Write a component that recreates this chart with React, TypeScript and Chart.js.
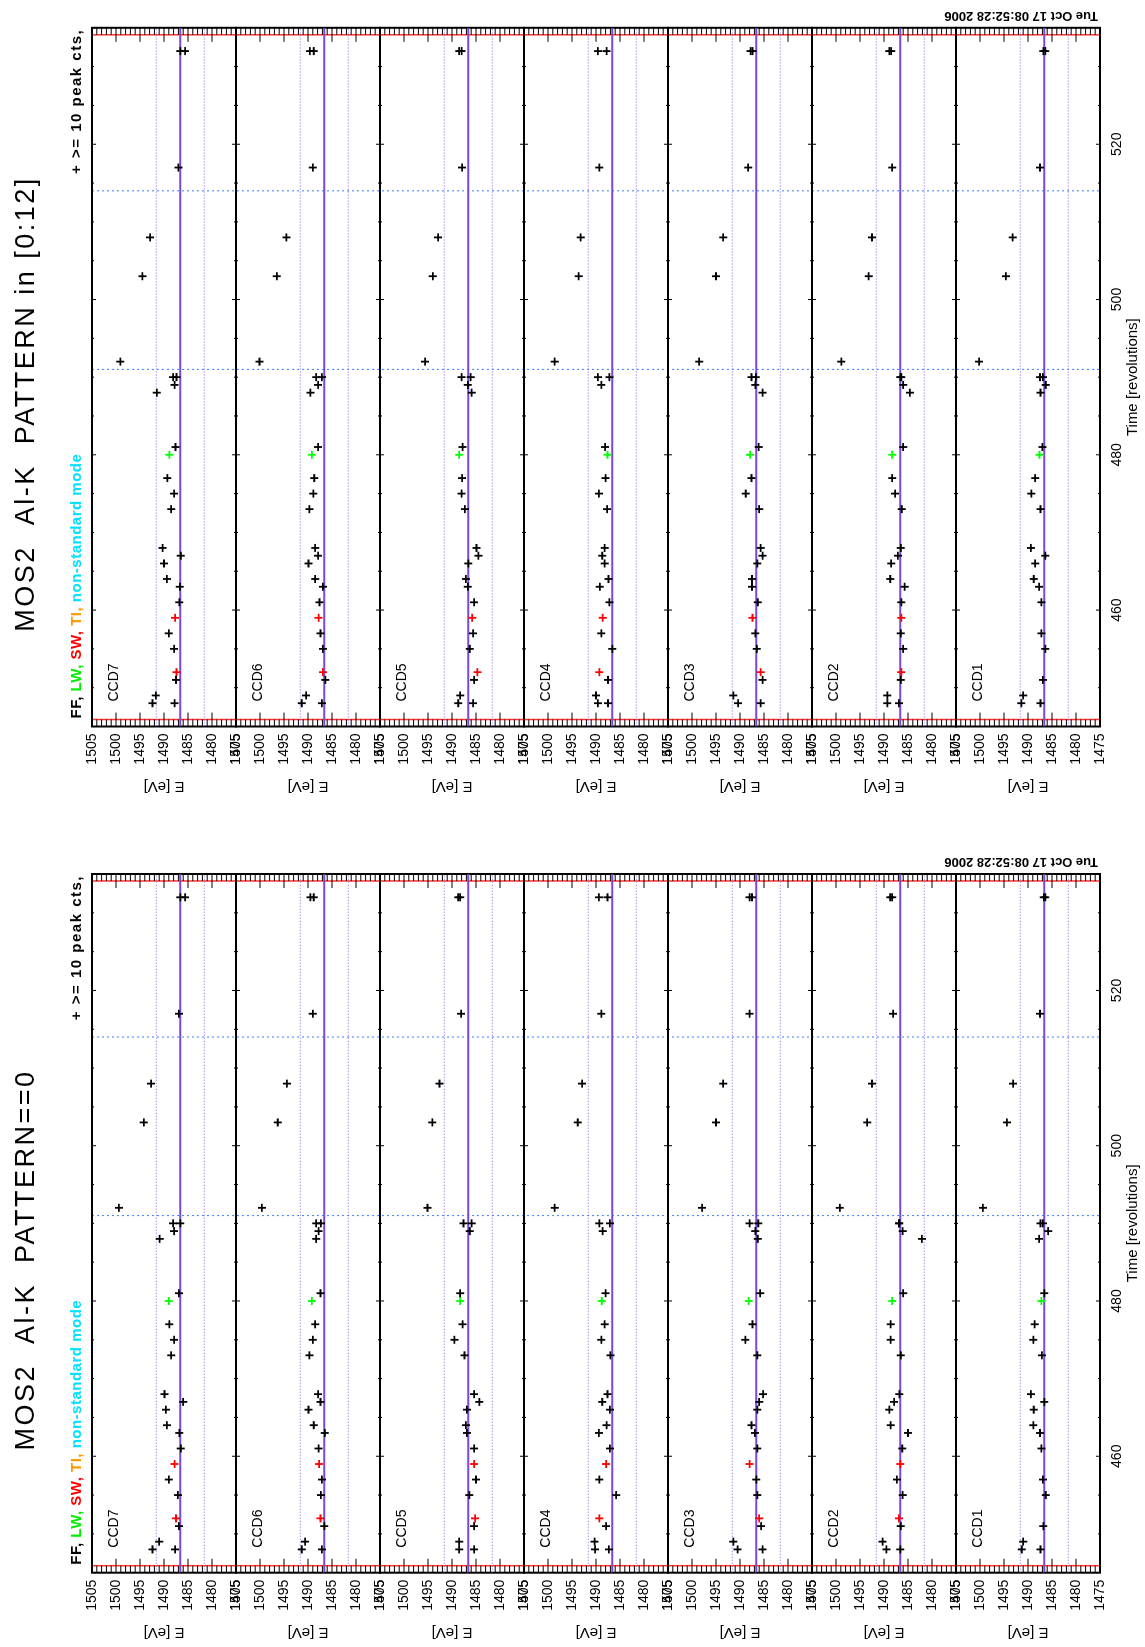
import React, { useEffect, useRef } from 'react';
import { Chart, registerables } from 'chart.js';

Chart.register(...registerables);

// ---------- data ----------
const TIMES = [448, 448, 449, 451, 452, 455, 457, 459, 461, 463, 464, 466, 467, 468, 473, 475, 477, 480, 481, 488, 489, 490, 490, 492, 503, 508, 517, 532, 532];
const MODES = ['FF', 'FF', 'FF', 'FF', 'SW', 'FF', 'FF', 'SW', 'FF', 'FF', 'FF', 'FF', 'FF', 'FF', 'FF', 'FF', 'FF', 'LW', 'FF', 'FF', 'FF', 'FF', 'FF', 'FF', 'FF', 'FF', 'FF', 'FF', 'FF'];
const CCD_NAMES = ['CCD7', 'CCD6', 'CCD5', 'CCD4', 'CCD3', 'CCD2', 'CCD1'];

// PATTERN==0
const P0_CCD7 = [1492.4, 1487.7, 1491.0, 1486.9, 1487.5, 1487.1, 1489.0, 1487.8, 1486.5, 1486.8, 1489.4, 1489.6, 1486.0, 1489.9, 1488.5, 1487.9, 1488.9, 1489.0, 1486.9, 1490.9, 1487.9, 1488.1, 1486.6, 1499.4, 1494.2, 1492.7, 1486.9, 1486.6, 1485.6];
const P0_CCD6 = [1491.3, 1487.1, 1490.6, 1486.6, 1487.4, 1487.3, 1487.1, 1487.7, 1487.8, 1486.5, 1488.8, 1489.9, 1487.4, 1487.9, 1489.7, 1489.0, 1488.5, 1489.2, 1487.4, 1488.3, 1487.8, 1488.3, 1487.3, 1499.6, 1496.3, 1494.4, 1489.0, 1489.5, 1488.8];
const P0_CCD5 = [1488.5, 1485.4, 1488.5, 1485.4, 1485.2, 1486.4, 1485.0, 1485.4, 1485.4, 1486.9, 1487.1, 1486.9, 1484.3, 1485.4, 1487.4, 1489.5, 1487.8, 1488.3, 1488.3, null, 1486.3, 1487.6, 1485.9, 1495.1, 1494.1, 1492.6, 1488.1, 1488.7, 1488.3];
const P0_CCD4 = [1490.2, 1487.3, 1490.3, 1487.9, 1489.3, 1485.8, 1489.3, 1487.9, 1487.1, 1489.4, 1487.8, 1487.1, 1488.7, 1487.6, 1487.0, 1488.9, 1488.2, 1488.8, 1488.0, null, 1488.6, 1489.3, 1487.1, 1498.6, 1493.8, 1492.9, 1488.9, 1489.4, 1487.6];
const P0_CCD3 = [1490.5, 1485.3, 1491.4, 1485.6, 1486.0, 1486.4, 1486.6, 1488.0, 1486.4, 1486.9, 1487.6, 1486.4, 1486.0, 1485.2, 1486.4, 1488.9, 1487.4, 1488.2, 1485.8, 1486.3, 1486.8, 1488.0, 1486.2, 1497.9, 1495.0, 1493.5, 1488.0, 1488.0, 1487.5];
const P0_CCD2 = [1489.5, 1486.6, 1490.3, 1486.5, 1486.9, 1486.1, 1487.3, 1486.6, 1486.2, 1485.0, 1488.6, 1488.9, 1487.9, 1486.8, 1486.5, 1488.6, 1488.6, 1488.3, 1486.0, 1482.1, 1486.1, 1486.9, 1486.8, 1499.2, 1493.5, 1492.5, 1488.1, 1488.7, 1488.3];
const P0_CCD1 = [1491.3, 1487.4, 1491.0, 1486.8, null, 1486.3, 1486.9, null, 1487.2, 1487.5, 1488.9, 1488.8, 1486.6, 1489.4, 1487.1, 1488.9, 1488.6, 1487.2, 1486.6, 1487.7, 1485.8, 1487.4, 1486.9, 1499.4, 1494.4, 1493.1, 1487.5, 1486.7, 1486.4];

// PATTERN in [0:12]
const P12_CCD7 = [1492.4, 1487.8, 1491.7, 1487.5, 1487.4, 1487.9, 1489.0, 1487.7, 1486.8, 1486.7, 1489.4, 1490.0, 1486.5, 1490.3, 1488.5, 1487.9, 1489.3, 1488.9, 1487.6, 1491.5, 1487.8, 1488.1, 1487.4, 1499.1, 1494.5, 1492.9, 1487.0, 1486.6, 1485.6];
const P12_CCD6 = [1491.3, 1487.1, 1490.4, 1486.4, 1486.9, 1486.9, 1487.4, 1487.8, 1487.6, 1486.9, 1488.5, 1489.9, 1487.9, 1488.5, 1489.7, 1488.9, 1488.7, 1489.2, 1487.9, 1489.5, 1487.9, 1488.3, 1487.1, 1500.1, 1496.5, 1494.5, 1489.0, 1489.6, 1488.8];
const P12_CCD5 = [1488.7, 1485.6, 1488.3, 1485.4, 1484.7, 1486.3, 1485.6, 1485.8, 1485.4, 1486.7, 1487.1, 1486.6, 1484.5, 1484.9, 1487.3, 1488.0, 1487.9, 1488.5, 1487.8, 1485.9, 1486.7, 1488.0, 1486.1, 1495.6, 1494.0, 1492.9, 1487.9, 1488.5, 1488.0];
const P12_CCD4 = [1489.6, 1487.5, 1490.0, 1487.5, 1489.3, 1486.6, 1488.9, 1488.6, 1487.2, 1489.2, 1487.4, 1488.2, 1488.7, 1488.2, 1487.7, 1489.4, 1488.0, 1487.6, 1488.1, null, 1488.9, 1489.6, 1487.2, 1498.6, 1493.6, 1493.2, 1489.3, 1489.6, 1487.8];
const P12_CCD3 = [1490.4, 1485.7, 1491.4, 1485.3, 1485.7, 1486.5, 1486.8, 1487.4, 1486.3, 1487.5, 1487.5, 1486.4, 1485.3, 1485.7, 1486.0, 1488.8, 1487.6, 1487.9, 1486.1, 1485.3, 1486.8, 1487.6, 1486.7, 1498.5, 1495.0, 1493.5, 1488.3, 1487.8, 1487.4];
const P12_CCD2 = [1489.3, 1486.9, 1489.3, 1486.5, 1486.4, 1486.0, 1486.5, 1486.4, 1486.4, 1485.7, 1488.7, 1488.5, 1487.1, 1486.5, 1486.3, 1487.7, 1488.3, 1488.3, 1486.0, 1484.6, 1486.0, 1486.6, 1486.4, 1498.9, 1493.2, 1492.5, 1488.3, 1488.9, 1488.5];
const P12_CCD1 = [1491.4, 1487.4, 1491.0, 1486.9, null, 1486.4, 1487.2, null, 1487.2, 1487.7, 1488.8, 1488.5, 1486.4, 1489.4, 1487.4, 1489.3, 1488.5, 1487.6, 1487.0, 1487.4, 1486.3, 1487.5, 1486.9, 1500.2, 1494.6, 1493.2, 1487.5, 1486.8, 1486.4];

const TIME_TICKS = [460, 480, 500, 520];
const E_TICKS = [1475, 1480, 1485, 1490, 1495, 1500, 1505];
const T_MIN = 445;
const T_MAX = 535;
const E_MIN = 1475;
const E_MAX = 1505;
const AL_K = 1486.6;
const AL_K_WINDOW = [1491.6, 1481.6];
const BLUE_TIMES = [491, 514];
const RED_TIMES = [445.9, 534.1];

const MODE_COLORS: [string, string][] = [
  ['FF', '#000000'],
  ['LW', '#00ff00'],
  ['SW', '#ff0000'],
];
const LEGEND_PARTS: [string, string][] = [
  ['FF, ', '#000000'],
  ['LW, ', '#00ee00'],
  ['SW, ', '#ff0000'],
  ['TI, ', '#ff9900'],
  ['non-standard mode', '#00e0ff'],
];
const DATE_TEXT = 'Tue Oct 17 08:52:28 2006';
const PEAK_TEXT = '+ >= 10 peak cts,';

const FONT = '"Liberation Sans", Arial, Helvetica, sans-serif';
Chart.defaults.font.family = FONT;

const PAGE_W = 1647;
const PAGE_H = 1145;
const AXIS_W = 74.3;
const TOP_PAD = 92;
const X_AXIS_H = 45;

function txt(ctx: CanvasRenderingContext2D, s: string, x: number, y: number, font: string, color: string, align: CanvasTextAlign = 'left', spacing = 0) {
  ctx.save();
  ctx.font = font;
  ctx.fillStyle = color;
  ctx.textAlign = align;
  ctx.textBaseline = 'alphabetic';
  (ctx as any).letterSpacing = spacing + 'px';
  ctx.fillText(s, x, y);
  ctx.restore();
}

function makeConfig(title: string, titleX: number, series: (number | null)[][], padLeft: number, padRight: number) {
  const scales: any = {
    x: {
      type: 'linear',
      position: 'bottom',
      min: T_MIN,
      max: T_MAX,
      afterBuildTicks: (s: any) => { s.ticks = TIME_TICKS.map((v) => ({ value: v })); },
      afterFit: (s: any) => { s.height = X_AXIS_H; },
      grid: { display: false, drawTicks: false },
      border: { display: false },
      ticks: { color: '#000', font: { size: 14 }, padding: 9, maxRotation: 0, autoSkip: false, callback: (v: any) => String(v) },
      title: { display: true, text: 'Time [revolutions]', color: '#000', font: { size: 15 }, padding: { top: 0, bottom: 3 } },
    },
  };
  CCD_NAMES.forEach((_, i) => {
    scales['y' + i] = {
      type: 'linear',
      position: 'left',
      stack: 'ccd',
      stackWeight: 1,
      weight: 10 - i,
      min: E_MIN,
      max: E_MAX,
      afterBuildTicks: (s: any) => { s.ticks = E_TICKS.map((v) => ({ value: v })); },
      afterFit: (s: any) => { s.width = AXIS_W; },
      grid: { display: false, drawTicks: false },
      border: { display: false },
      ticks: { color: '#000', font: { size: 14 }, padding: 7, autoSkip: false, callback: (v: any) => String(v) },
      title: { display: true, text: 'E [eV]', color: '#000', font: { size: 15 }, padding: { top: 5.5, bottom: 0 } },
    };
  });

  const datasets: any[] = [];
  series.forEach((vals, i) => {
    const yAxisID = 'y' + i;
    MODE_COLORS.forEach(([mode, color]) => {
      const pts = TIMES.map((t, k) => ({ x: t, y: vals[k], m: MODES[k] }))
        .filter((p) => p.m === mode && p.y !== null)
        .map((p) => ({ x: p.x, y: p.y }));
      datasets.push({
        type: 'scatter',
        label: CCD_NAMES[i] + ' ' + mode,
        data: pts,
        xAxisID: 'x',
        yAxisID,
        pointStyle: 'cross',
        pointRadius: 4,
        borderColor: color,
        backgroundColor: color,
        borderWidth: 1.8,
        showLine: false,
        order: 0,
      });
    });
    datasets.push({
      type: 'line',
      label: 'Al-K',
      data: [{ x: T_MIN, y: AL_K }, { x: T_MAX, y: AL_K }],
      xAxisID: 'x',
      yAxisID,
      borderColor: '#7a48d8',
      borderWidth: 2,
      pointRadius: 0,
      order: 1,
    });
    AL_K_WINDOW.forEach((v) => {
      datasets.push({
        type: 'line',
        label: 'window',
        data: [{ x: T_MIN, y: v }, { x: T_MAX, y: v }],
        xAxisID: 'x',
        yAxisID,
        borderColor: '#8a5cf0',
        borderWidth: 1,
        borderDash: [1, 2],
        pointRadius: 0,
        order: 1,
      });
    });
  });

  const framePlugin = {
    id: 'idlFrame',
    beforeDatasetsDraw(chart: any) {
      const { ctx, chartArea: a, scales: sc } = chart;
      const xs = sc.x;
      ctx.save();
      ctx.strokeStyle = '#3f7bff';
      ctx.lineWidth = 1;
      ctx.setLineDash([2, 3]);
      BLUE_TIMES.forEach((t) => {
        const px = xs.getPixelForValue(t);
        ctx.beginPath();
        ctx.moveTo(px, a.top);
        ctx.lineTo(px, a.bottom);
        ctx.stroke();
      });
      ctx.setLineDash([]);
      ctx.strokeStyle = '#ff3030';
      ctx.lineWidth = 1.5;
      RED_TIMES.forEach((t) => {
        const px = xs.getPixelForValue(t);
        ctx.beginPath();
        ctx.moveTo(px, a.top);
        ctx.lineTo(px, a.bottom);
        ctx.stroke();
      });
      CCD_NAMES.forEach((_, i) => {
        const ys = sc['y' + i];
        ctx.strokeStyle = '#000';
        ctx.lineWidth = 1;
        ctx.beginPath();
        for (let e = E_MIN; e <= E_MAX; e++) {
          const py = ys.getPixelForValue(e);
          const len = e % 5 === 0 ? 14 : 7;
          ctx.moveTo(a.left, py);
          ctx.lineTo(a.left + len, py);
          ctx.moveTo(a.right, py);
          ctx.lineTo(a.right - len, py);
        }
        for (let t = 450; t <= 530; t += 5) {
          const px = xs.getPixelForValue(t);
          const len = t % 20 === 0 ? 4 : 2;
          ctx.moveTo(px, ys.top);
          ctx.lineTo(px, ys.top + len);
          ctx.moveTo(px, ys.bottom);
          ctx.lineTo(px, ys.bottom - len);
        }
        ctx.stroke();
        ctx.lineWidth = 2;
        ctx.strokeRect(a.left, ys.top, a.right - a.left, ys.bottom - ys.top);
      });
      ctx.restore();
    },
    afterDraw(chart: any) {
      const { ctx, chartArea: a, scales: sc } = chart;
      txt(ctx, title, titleX, 34, `27px ${FONT}`, '#000', 'center', 2.5);
      ctx.save();
      ctx.font = `bold 15px ${FONT}`;
      (ctx as any).letterSpacing = '0.5px';
      let lx = a.left + 8;
      LEGEND_PARTS.forEach(([s, c]) => {
        ctx.fillStyle = c;
        ctx.textAlign = 'left';
        ctx.fillText(s, lx, 81);
        lx += ctx.measureText(s).width;
      });
      ctx.restore();
      txt(ctx, PEAK_TEXT, a.right - 1, 81, `bold 15px ${FONT}`, '#000', 'right', 1.5);
      CCD_NAMES.forEach((name, i) => {
        const ys = sc['y' + i];
        txt(ctx, name, a.left + 25, ys.top + 26, `14px ${FONT}`, '#000', 'left');
      });
      ctx.save();
      ctx.translate(a.right + 12, a.bottom - 2);
      ctx.rotate(-Math.PI / 2);
      ctx.font = `bold 13px ${FONT}`;
      ctx.fillStyle = '#000';
      ctx.textAlign = 'left';
      ctx.textBaseline = 'middle';
      ctx.fillText(DATE_TEXT, 0, 0);
      ctx.restore();
    },
  };

  return {
    type: 'scatter' as const,
    data: { datasets },
    options: {
      animation: false as const,
      responsive: false,
      devicePixelRatio: 1,
      events: [],
      layout: { padding: { left: padLeft, right: padRight, top: TOP_PAD, bottom: 0 } },
      plugins: { legend: { display: false }, tooltip: { enabled: false }, title: { display: false } },
      scales,
    },
    plugins: [framePlugin],
  };
}

function Panel(props: { title: string; titleX: number; series: (number | null)[][]; width: number; padLeft: number; padRight: number }) {
  const ref = useRef<HTMLCanvasElement>(null);
  useEffect(() => {
    const chart = new Chart(ref.current as HTMLCanvasElement, makeConfig(props.title, props.titleX, props.series, props.padLeft, props.padRight) as any);
    return () => chart.destroy();
  }, []);
  return <canvas ref={ref} width={props.width} height={PAGE_H} style={{ display: 'block', width: props.width, height: PAGE_H }} />;
}

const P0_SERIES = [P0_CCD7, P0_CCD6, P0_CCD5, P0_CCD4, P0_CCD3, P0_CCD2, P0_CCD1];
const P12_SERIES = [P12_CCD7, P12_CCD6, P12_CCD5, P12_CCD4, P12_CCD3, P12_CCD2, P12_CCD1];

export default function App() {
  useEffect(() => {
    document.body.style.overflow = 'hidden';
  }, []);
  return (
    <div
      style={{
        position: 'absolute',
        left: 0,
        top: 0,
        width: PAGE_W,
        height: PAGE_H,
        display: 'flex',
        background: '#fff',
        transformOrigin: '0 0',
        transform: `translate(0px, ${PAGE_W}px) rotate(-90deg)`,
      }}
    >
      <Panel title="MOS2  Al-K  PATTERN==0" titleX={387} series={P0_SERIES} width={823} padLeft={0} padRight={50} />
      <Panel title="MOS2  Al-K  PATTERN in [0:12]" titleX={420} series={P12_SERIES} width={824} padLeft={23.2} padRight={27.8} />
    </div>
  );
}
